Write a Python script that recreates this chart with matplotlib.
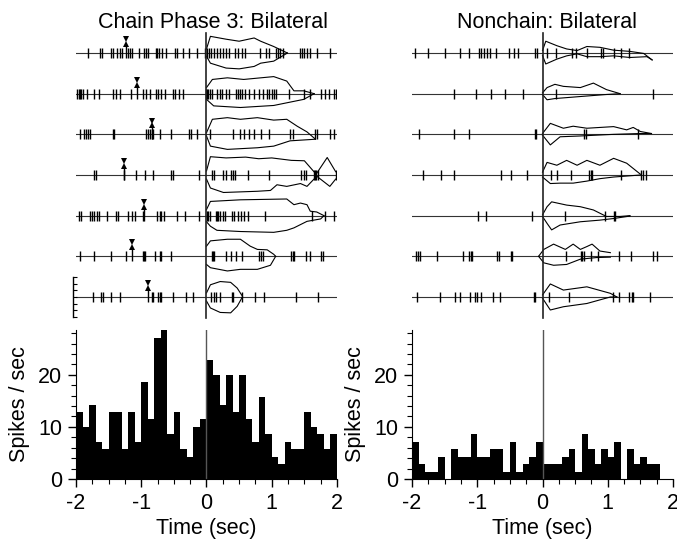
import numpy as np
import matplotlib.pyplot as plt

plt.rcParams["font.family"] = ["Liberation Sans", "DejaVu Sans"]
plt.rcParams["axes.unicode_minus"] = False

# histogram (PSTH), 0.1 s bins from -2 to 2 s, spikes / sec
bin_edges = np.round(np.arange(-2.0, 2.0, 0.1), 2)
chain_rate = [12.86, 10.0, 14.29, 7.14, 5.71, 12.86, 12.86, 5.71, 12.86, 7.14,
              18.57, 11.43, 27.14, 28.57, 8.57, 12.86, 5.71, 4.29, 10.0, 11.43,
              22.86, 20.0, 14.29, 20.0, 12.86, 20.0, 11.43, 7.14, 15.71, 8.57,
              4.29, 2.86, 7.14, 5.71, 5.71, 12.86, 10.0, 8.57, 5.71, 8.57]
nonchain_rate = [7.14, 2.86, 1.43, 1.43, 4.29, 0, 5.71, 4.29, 4.29, 8.57,
                 4.29, 4.29, 5.71, 5.71, 1.43, 7.14, 1.43, 2.86, 4.29, 7.14,
                 2.86, 2.86, 2.86, 4.29, 5.71, 1.43, 8.57, 5.71, 2.86, 5.71,
                 4.29, 7.14, 0, 5.71, 2.86, 4.29, 2.86, 2.86, 0, 0]

# raster spike times (sec), one list per trial, top trial first
chain_spikes = [
    [-1.82, -1.63, -1.60, -1.47, -1.44, -1.37, -1.32, -1.29, -1.21, -1.18, -1.14, -1.03,
     -0.96, -0.92, -0.89, -0.78, -0.76, -0.73, -0.68, -0.62, -0.49, -0.45, -0.36, -0.27,
     -0.14, -0.02, 0.01, 0.04, 0.07, 0.11, 0.16, 0.21, 0.26, 0.30, 0.35, 0.43, 0.48,
     0.54, 0.59, 0.82, 0.91, 0.96, 1.06, 1.10, 1.13, 1.17, 1.43, 1.47, 1.50, 1.54,
     1.59, 1.69, 1.90],
    [-1.98, -1.96, -1.94, -1.92, -1.90, -1.83, -1.73, -1.64, -1.44, -1.38, -1.33, -1.15,
     -0.98, -0.92, -0.86, -0.78, -0.74, -0.70, -0.64, -0.51, -0.48, -0.42, -0.36, -0.01,
     0.01, 0.03, 0.05, 0.09, 0.16, 0.20, 0.24, 0.30, 0.35, 0.45, 0.48, 0.52, 0.55, 0.59,
     0.65, 0.73, 0.81, 0.87, 0.93, 0.96, 1.00, 1.03, 1.07, 1.27, 1.50, 1.59, 1.75, 1.81,
     1.88, 1.95, 1.99],
    [-1.94, -1.88, -1.85, -1.82, -1.78, -1.43, -1.41, -0.93, -0.90, -0.86, -0.84, -0.82,
     -0.72, -0.55, -0.27, -0.23, -0.15, 0.05, 0.41, 0.52, 0.58, 0.65, 0.73, 0.83, 0.96,
     1.28, 1.33, 1.66, 1.70, 1.90, 1.95],
    [-1.72, -1.69, -1.26, -1.08, -0.94, -0.82, -0.54, -0.51, -0.11, 0.08, 0.11, 0.26,
     0.30, 0.37, 0.40, 0.44, 0.64, 0.96, 1.45, 1.49, 1.52, 1.64, 1.66, 1.68, 1.71, 1.98],
    [-1.96, -1.92, -1.78, -1.75, -1.72, -1.68, -1.64, -1.52, -1.39, -1.36, -1.20, -1.14,
     -1.09, -0.97, -0.76, -0.72, -0.69, -0.65, -0.45, -0.33, -0.11, 0.01, 0.03, 0.06,
     0.14, 0.16, 0.18, 0.21, 0.25, 0.28, 0.39, 0.42, 0.49, 0.53, 0.57, 0.64, 0.90, 1.62,
     1.82, 1.95],
    [-1.94, -1.73, -1.46, -1.23, -0.98, -0.96, -0.94, -0.79, -0.71, -0.69, -0.55, 0.08,
     0.10, 0.12, 0.30, 0.38, 0.45, 0.54, 0.81, 0.84, 0.87, 1.30, 1.32, 1.34, 1.53, 1.58,
     1.76, 1.79],
    [-1.74, -1.61, -1.58, -1.46, -1.32, -0.84, -0.82, -0.74, -0.72, -0.70, -0.51, -0.31,
     -0.20, 0.07, 0.11, 0.15, 0.20, 0.39, 0.41, 0.55, 0.74, 0.88, 1.37, 1.71],
]
chain_marker = [-1.24, -1.07, -0.83, -1.27, -0.96, -1.14, -0.90]

nonchain_spikes = [
    [-1.96, -1.76, -1.50, -1.27, -1.12, -0.98, -0.95, -0.89, -0.85, -0.80, -0.72, -0.51,
     -0.43, -0.38, -0.11, -0.09, 0.07, 0.20, 0.45, 0.52, 0.68, 0.90, 0.92, 1.09, 1.20, 1.33],
    [-1.35, -1.02, -0.79, -0.57, -0.30, 0.20, 1.70],
    [-1.89, -1.36, -1.12, -0.11, -0.10, 0.64, 0.66, 1.47],
    [-1.83, -1.55, -1.36, -0.63, -0.48, -0.24, 0.13, 0.22, 0.43, 0.72, 0.74, 0.76, 1.20,
     1.51, 1.54, 1.58],
    [-0.99, -0.87, -0.16, 0.35, 0.96, 1.09, 1.11],
    [-1.94, -1.91, -1.88, -1.62, -1.22, -1.13, -1.10, -1.08, -0.69, -0.67, -0.49, -0.47,
     0.36, 0.59, 0.61, 0.64, 0.74, 0.85, 1.17, 1.36, 1.69, 1.76],
    [-1.92, -1.57, -1.34, -1.26, -1.11, -1.04, -1.01, -0.95, -0.76, -0.65, -0.13, -0.11,
     0.10, 0.41, 1.08, 1.18, 1.33, 1.37, 1.39, 1.65],
]

# envelope outlines after time 0: (time, offset in row units) upper / lower
chain_up = [
    [(0, .1), (.06, .41), (.3, .34), (.5, .29), (.73, .37), (.83, .29), (1.03, .16), (1.24, 0)],
    [(0, .15), (.09, .35), (.32, .39), (.57, .35), (1.03, .42), (1.23, .31), (1.34, .07), (1.49, .07), (1.65, 0)],
    [(0, .04), (.09, .37), (.32, .41), (.52, .37), (.78, .41), (1.03, .35), (1.23, .37), (1.39, .2), (1.54, .06), (1.67, -.12)],
    [(0, .1), (.06, .45), (.3, .42), (.6, .44), (.8, .4), (1.0, .42), (1.3, .36), (1.5, .35), (1.68, .02), (1.85, .43), (1.98, .08)],
    [(0, .15), (.06, .35), (.52, .39), (1.23, .41), (1.34, .27), (1.44, .31), (1.54, .27), (1.59, .11), (1.69, .09), (1.8, 0)],
    [(0, .25), (.06, .38), (.32, .42), (.52, .42), (.67, .25), (.78, .17), (.93, .16), (1.03, .05), (1.06, 0)],
    [(0, .1), (.06, .3), (.21, .38), (.37, .36), (.47, .22), (.55, .02)],
]
chain_lo = [
    [(0, .08), (.06, .25), (.3, .37), (.5, .39), (.73, .33), (.83, .25), (1.03, .2), (1.24, 0)],
    [(0, .14), (.11, .3), (.52, .34), (1.03, .29), (1.49, .14), (1.65, 0)],
    [(0, .04), (.06, .29), (.32, .37), (.78, .33), (1.03, .29), (1.28, .16), (1.67, .12)],
    [(0, .1), (.06, .32), (.26, .43), (.78, .4), (.98, .38), (1.08, .24), (1.23, .28), (1.44, .21), (1.54, .28), (1.69, .03), (1.89, .28), (1.98, .1)],
    [(0, .15), (.06, .26), (.16, .36), (.52, .39), (1.03, .41), (1.23, .36), (1.34, .3), (1.49, .18), (1.54, .14), (1.75, .08), (1.8, 0)],
    [(0, .2), (.06, .28), (.32, .36), (.52, .32), (.78, .32), (.98, .22), (1.06, 0)],
    [(0, .1), (.06, .27), (.21, .38), (.37, .39), (.47, .23), (.55, 0)],
]
nonchain_up = [
    [(0, .06), (.05, .29), (.22, .18), (.37, .1), (.53, .06), (.68, .16), (.88, .14), (1.09, .07), (1.34, .04), (1.55, -.01), (1.68, -.17)],
    [(0, .02), (.07, .15), (.19, .23), (.32, .18), (.58, .15), (.78, .26), (.98, .1), (1.19, 0)],
    [(0, .02), (.12, .27), (.32, .15), (.47, .2), (.68, .15), (1.09, .19), (1.29, .11), (1.39, .17), (1.5, .07), (1.67, .02)],
    [(0, .07), (.07, .31), (.22, .24), (.37, .36), (.53, .24), (.68, .36), (.88, .24), (1.09, .41), (1.29, .29), (1.5, .02)],
    [(0, .02), (.07, .22), (.14, .34), (.37, .26), (.58, .22), (.78, .14), (.98, -.02), (1.19, -.02), (1.34, 0)],
    [(-.06, 0), (.02, .17), (.17, .3), (.35, .17), (.47, .3), (.58, .17), (.68, .24), (.76, .3), (.88, .13), (1.04, .09)],
    [(0, .05), (.12, .32), (.32, .17), (.68, .25), (1.04, .09), (1.14, 0)],
]
nonchain_lo = [
    [(0, .06), (.05, .27), (.22, .15), (.37, .07), (.53, .02), (.68, .09), (.88, .09), (1.09, .07), (1.34, .11), (1.6, .09), (1.68, .17)],
    [(0, .02), (.07, .15), (.19, .12), (.58, .07), (.98, .02), (1.19, 0)],
    [(0, .02), (.12, .26), (.27, .06), (.58, .04), (.83, .02), (1.09, 0), (1.5, -.02), (1.67, -.02)],
    [(0, .05), (.12, .21), (.27, .2), (.47, .2), (.68, .15), (.88, .09), (1.09, .05), (1.5, 0)],
    [(0, .02), (.07, .19), (.14, .35), (.27, .23), (.58, .15), (.88, .11), (1.09, .07), (1.34, .01)],
    [(-.06, 0), (.02, .16), (.17, .22), (.37, .2), (.58, .07), (.83, .03), (1.04, .02)],
    [(0, .03), (.12, .32), (.32, .24), (.68, .16), (1.04, 0), (1.14, 0)],
]

W, H = 677, 541
fig = plt.figure(figsize=(W / 100, H / 100), dpi=100)


def fx(px):
    return px / W


def fy(px):
    return 1 - px / H


def raster(x0, spikes, up, lo, markers=None, scale_bar=False):
    ax = fig.add_axes([fx(x0), fy(320), fx(261), 290 / H])
    ax.set_xlim(-2, 2)
    ax.set_ylim(-0.566, 6.566)
    ax.axis("off")
    n = len(spikes)
    for i in range(n):
        y = n - 1 - i
        ax.plot([-2, 2], [y, y], color="#333333", lw=0.8, zorder=1)
        ax.vlines(spikes[i], y - 0.12, y + 0.12, color="black", lw=1.0, zorder=2)
        tu = [p[0] for p in up[i]]
        ax.plot(tu, [y + p[1] for p in up[i]], color="black", lw=0.8)
        tl = [p[0] for p in lo[i]]
        ax.plot(tl, [y - p[1] for p in lo[i]], color="black", lw=0.8)
        if markers is not None:
            t = markers[i]
            ax.vlines(t, y - 0.12, y + 0.2, color="black", lw=1.0)
            ax.plot(t, y + 0.34, marker="v", color="black", ms=4.5, mew=0)
            ax.plot(t, y + 0.22, marker="^", color="black", ms=4.5, mew=0)
    ax.plot([0, 0], [-0.52, 6.5], color="#222222", lw=1.2, zorder=3)
    if scale_bar:
        ax.plot([-2.05, -2.05], [-0.49, 0.49], color="black", lw=1.0, clip_on=False)
        ax.hlines(np.linspace(-0.49, 0.49, 7), -2.05, -1.99, color="black", lw=0.8,
                  clip_on=False)
    return ax


raster(76, chain_spikes, chain_up, chain_lo, chain_marker, scale_bar=True)
raster(412, nonchain_spikes, nonchain_up, nonchain_lo)


def psth(x0, rate):
    ax = fig.add_axes([fx(x0), fy(479), fx(261), 149 / H])
    ax.bar(bin_edges, rate, width=0.1, align="edge", color="black", lw=0)
    ax.axvline(0, color="#555555", lw=1.0)
    ax.set_xlim(-2, 2)
    ax.set_ylim(0, 28.6)
    for s in ["top", "right"]:
        ax.spines[s].set_visible(False)
    ax.set_xticks([-2, -1, 0, 1, 2])
    ax.set_xticks(np.arange(-2, 2.01, 0.25), minor=True)
    ax.set_yticks([0, 10, 20])
    ax.set_yticks(np.arange(0, 28.6, 2), minor=True)
    ax.tick_params(which="major", length=6, width=1, labelsize=15.5, pad=4)
    ax.tick_params(which="minor", length=3.5, width=0.8)
    ax.set_xlabel("Time (sec)", fontsize=15.5, labelpad=3)
    ax.set_ylabel("Spikes / sec", fontsize=15.5, labelpad=6)
    return ax


psth(76, chain_rate)
psth(412, nonchain_rate)

fig.text(fx(213), fy(22), "Chain Phase 3: Bilateral", fontsize=15.5, ha="center", va="center")
fig.text(fx(547), fy(22), "Nonchain: Bilateral", fontsize=15.5, ha="center", va="center")

fig.savefig("out.png", dpi=100)
